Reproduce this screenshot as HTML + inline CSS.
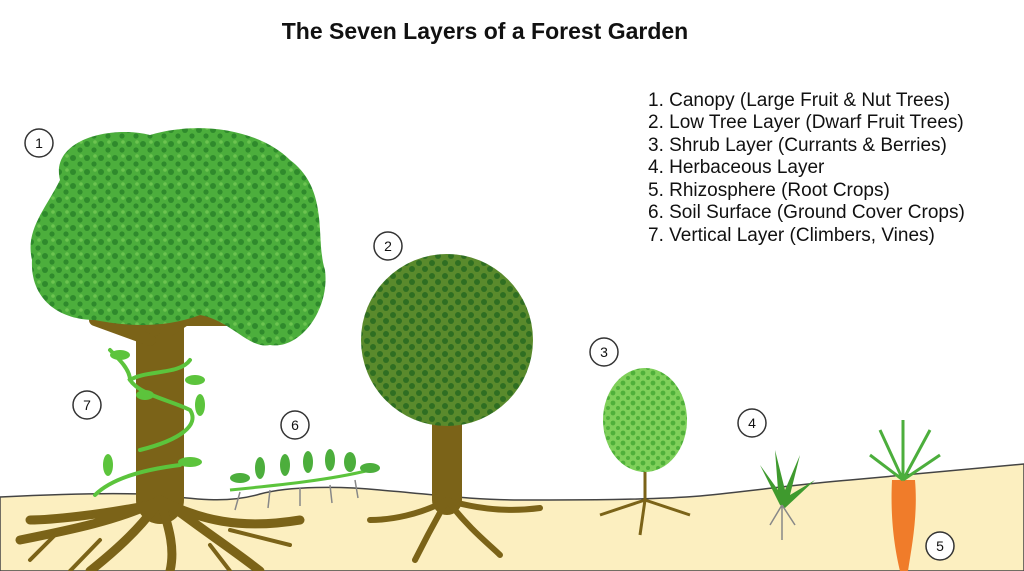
<!DOCTYPE html>
<html><head><meta charset="utf-8"><style>
html,body{margin:0;padding:0;background:#fff;}
svg{display:block;}
text{font-family:"Liberation Sans",sans-serif;}
</style></head><body>
<svg width="1024" height="571" viewBox="0 0 1024 571" xmlns="http://www.w3.org/2000/svg">
<defs>
<pattern id="sp1" width="14" height="14" patternUnits="userSpaceOnUse">
<rect width="14" height="14" fill="#4cae3c"/>
<circle cx="3" cy="4" r="3" fill="#2f8a2c"/><circle cx="10" cy="10" r="2.6" fill="#2f8a2c"/><circle cx="11" cy="2" r="1.8" fill="#6cc450"/>
</pattern>
<pattern id="sp2" width="13" height="13" patternUnits="userSpaceOnUse">
<rect width="13" height="13" fill="#5a8a2c"/>
<circle cx="3" cy="3" r="3" fill="#2f6e22"/><circle cx="9" cy="9" r="3" fill="#2f6e22"/>
</pattern>
<pattern id="sp3" width="10" height="10" patternUnits="userSpaceOnUse">
<rect width="10" height="10" fill="#7fd05a"/>
<circle cx="3" cy="3" r="2.4" fill="#4fb03a"/><circle cx="8" cy="8" r="2" fill="#4fb03a"/>
</pattern>
</defs>
<text x="485" y="39" font-size="23" font-weight="bold" text-anchor="middle" fill="#111">The Seven Layers of a Forest Garden</text>
<g font-size="19" fill="#111">
<text x="648" y="106">1. Canopy (Large Fruit &amp; Nut Trees)</text>
<text x="648" y="128">2. Low Tree Layer (Dwarf Fruit Trees)</text>
<text x="648" y="151">3. Shrub Layer (Currants &amp; Berries)</text>
<text x="648" y="173">4. Herbaceous Layer</text>
<text x="648" y="196">5. Rhizosphere (Root Crops)</text>
<text x="648" y="218">6. Soil Surface (Ground Cover Crops)</text>
<text x="648" y="241">7. Vertical Layer (Climbers, Vines)</text>
</g>
<!-- ground -->
<path d="M0 497 C60 494 120 492 160 495 C200 500 230 503 260 494 C290 486 340 486 380 490 C430 494 470 500 520 500 C580 500 650 500 700 496 C760 490 800 484 850 480 C920 474 980 468 1024 464 L1024 571 L0 571 Z" fill="#fcefc0" stroke="#444" stroke-width="1.5"/>
<!-- big tree trunk + branches -->
<g stroke="#7b6318" stroke-linecap="round" fill="none">
<path d="M160 500 L160 320" stroke-width="48"/>
<path d="M150 340 L95 320 M155 330 L120 290 M170 330 L215 300 M175 320 L250 320 M165 320 L175 280 M140 330 L80 300" stroke-width="12"/>
<path d="M160 500 C120 520 70 530 20 540 M160 500 C140 530 110 555 90 571 M160 500 C170 530 175 550 170 571 M160 500 C200 520 240 530 300 520 M170 505 C210 535 240 555 260 571 M150 505 C100 515 50 520 30 520" stroke-width="9"/>
<path d="M60 530 L30 560 M230 530 L290 545 M100 540 L70 571 M210 545 L230 571" stroke-width="4"/>
</g>
<path d="M60 180 C50 140 110 125 150 135 C200 120 260 130 290 160 C330 190 315 240 325 270 C330 310 300 350 270 345 C250 350 230 320 200 315 C160 330 120 325 95 320 C60 320 30 300 32 260 C25 230 45 210 60 180 Z" fill="url(#sp1)"/>
<!-- vine -->
<g stroke="#5cc43c" stroke-width="4" fill="none" stroke-linecap="round">
<path d="M95 495 C110 480 140 470 180 465 M140 450 C180 440 200 425 190 410 C170 400 140 395 130 380 C145 370 180 375 190 360 M110 350 C120 360 130 370 130 380"/>
</g>
<g fill="#5cc43c">
<ellipse cx="108" cy="465" rx="5" ry="11"/><ellipse cx="190" cy="462" rx="12" ry="5"/><ellipse cx="200" cy="405" rx="5" ry="11"/><ellipse cx="120" cy="355" rx="10" ry="5"/><ellipse cx="145" cy="395" rx="9" ry="5"/><ellipse cx="195" cy="380" rx="10" ry="5"/>
</g>
<!-- ground cover 6 -->
<path d="M230 490 C280 485 330 480 370 470" stroke="#5cc43c" stroke-width="3" fill="none"/>
<g fill="#4cae3c">
<ellipse cx="240" cy="478" rx="10" ry="5"/><ellipse cx="260" cy="468" rx="5" ry="11"/><ellipse cx="285" cy="465" rx="5" ry="11"/><ellipse cx="308" cy="462" rx="5" ry="11"/><ellipse cx="330" cy="460" rx="5" ry="11"/><ellipse cx="350" cy="462" rx="6" ry="10"/><ellipse cx="370" cy="468" rx="10" ry="5"/>
</g>
<g stroke="#888" stroke-width="1.5"><path d="M240 492 L235 510 M270 490 L268 508 M300 488 L300 506 M330 485 L332 503 M355 480 L358 498"/></g>
<!-- tree 2 -->
<g stroke="#7b6318" stroke-linecap="round" fill="none">
<path d="M447 500 L447 400" stroke-width="30"/>
<path d="M440 410 L415 390 M455 410 L480 385" stroke-width="8"/>
<path d="M447 500 C420 515 390 520 370 520 M447 500 C430 530 420 550 415 560 M447 500 C470 530 490 545 500 555 M447 500 C480 510 510 512 540 508" stroke-width="6"/>
</g>
<circle cx="447" cy="340" r="86" fill="url(#sp2)"/>
<!-- shrub 3 -->
<g stroke="#7b6318" stroke-width="3" fill="none"><path d="M645 500 L645 420 M645 450 L620 430 M645 440 L670 420 M645 500 L600 515 M645 500 L690 515 M645 500 L640 535"/></g>
<ellipse cx="645" cy="420" rx="42" ry="52" fill="url(#sp3)"/>
<!-- herb 4 -->
<g fill="#3f9a2e"><path d="M780 505 L760 465 L778 490 L775 450 L785 490 L800 455 L790 495 L815 480 L785 508 Z"/></g>
<g stroke="#888" stroke-width="1.5"><path d="M782 505 L770 525 M782 505 L782 540 M782 505 L795 525"/></g>
<!-- carrot -->
<path d="M892 480 C890 520 895 550 900 571 L908 571 C912 545 918 515 915 480 Z" fill="#f07c2a"/>
<g stroke="#4cae3c" stroke-width="3" fill="none"><path d="M903 480 L880 430 M903 480 L903 420 M903 480 L930 430 M903 480 L870 455 M903 480 L940 455"/></g>
<!-- numbered circles -->
<g fill="#fff" stroke="#333" stroke-width="1.5">
<circle cx="39" cy="143" r="14"/><circle cx="388" cy="246" r="14"/><circle cx="604" cy="352" r="14"/><circle cx="87" cy="405" r="14"/><circle cx="295" cy="425" r="14"/><circle cx="752" cy="423" r="14"/><circle cx="940" cy="546" r="14"/>
</g>
<g font-size="14" text-anchor="middle" fill="#111">
<text x="39" y="148">1</text><text x="388" y="251">2</text><text x="604" y="357">3</text><text x="87" y="410">7</text><text x="295" y="430">6</text><text x="752" y="428">4</text><text x="940" y="551">5</text>
</g>
</svg>
</body></html>
